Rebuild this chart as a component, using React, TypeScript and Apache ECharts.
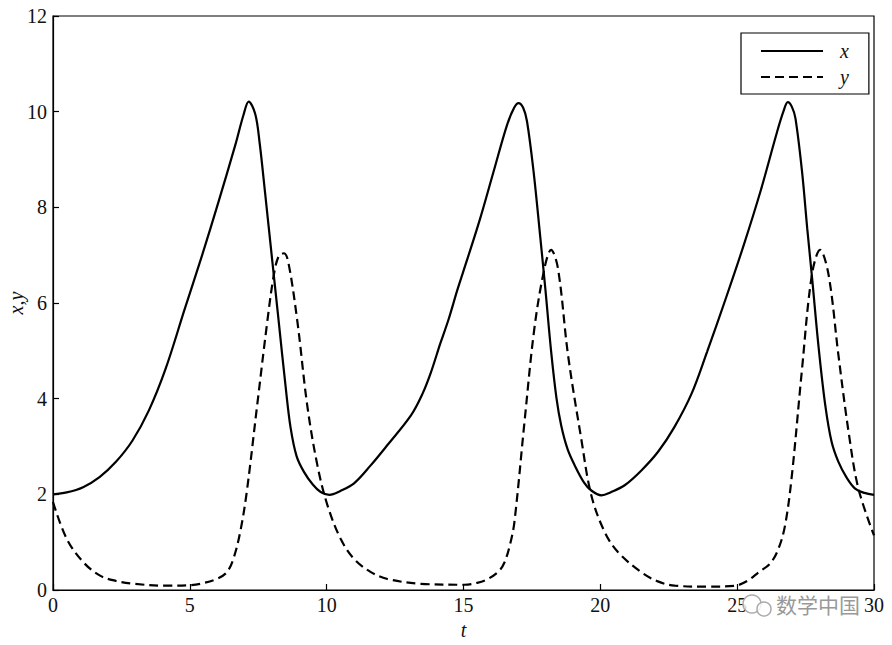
import React, { useEffect, useRef } from "react";
import * as echarts from "echarts";

const tX = [0, 0.5, 1.1, 1.7, 2.3, 2.9, 3.5, 4.1, 4.8, 5.45, 6.05, 6.66, 6.96, 7.15, 7.39, 7.55, 7.75, 8.0, 8.25, 8.5, 8.68, 8.9, 9.17, 9.5, 9.78, 10.1, 10.5, 11.0, 11.6, 12.22, 13.08, 13.5, 13.81, 14.15, 14.45, 14.79, 15.13, 15.61, 16.1, 16.59, 16.85, 17.01, 17.18, 17.32, 17.56, 17.81, 17.99, 18.2, 18.4, 18.57, 18.8, 19.06, 19.4, 19.67, 20.04, 20.4, 20.89, 21.5, 22.11, 22.7, 23.33, 23.9, 24.6, 25.24, 25.85, 26.46, 26.7, 26.85, 27.0, 27.13, 27.37, 27.56, 27.74, 27.98, 28.22, 28.45, 28.7, 29.0, 29.31, 29.65, 30.0];
const xVals = [2.0, 2.04, 2.15, 2.36, 2.68, 3.12, 3.75, 4.6, 5.85, 7.0, 8.12, 9.3, 9.93, 10.21, 9.95, 9.35, 8.3, 6.95, 5.6, 4.25, 3.4, 2.8, 2.47, 2.2, 2.05, 1.99, 2.07, 2.23, 2.6, 3.03, 3.65, 4.1, 4.55, 5.15, 5.65, 6.3, 6.9, 7.77, 8.75, 9.72, 10.08, 10.18, 10.08, 9.8, 8.75, 7.35, 6.3, 5.0, 4.0, 3.44, 2.95, 2.61, 2.25, 2.08, 1.98, 2.05, 2.19, 2.5, 2.89, 3.4, 4.1, 4.98, 6.12, 7.21, 8.33, 9.58, 10.02, 10.2, 10.1, 9.86, 8.75, 7.56, 6.51, 5.05, 3.86, 3.1, 2.68, 2.35, 2.12, 2.03, 1.99];

const tY = [0, 0.5, 1.11, 1.72, 2.3, 2.94, 4.16, 5.0, 5.38, 5.98, 6.35, 6.59, 6.84, 7.08, 7.46, 7.83, 8.07, 8.25, 8.44, 8.6, 8.93, 9.29, 9.66, 10.03, 10.51, 11.0, 11.6, 12.22, 13.44, 15.03, 15.5, 15.89, 16.3, 16.5, 16.7, 16.86, 17.23, 17.59, 17.96, 18.2, 18.45, 18.82, 19.3, 19.67, 20.16, 20.65, 21.5, 22.1, 22.72, 23.94, 24.92, 25.4, 25.78, 26.2, 26.5, 26.75, 27.0, 27.36, 27.73, 28.03, 28.34, 28.7, 29.07, 29.43, 30.0];
const yVals = [1.84, 1.07, 0.58, 0.3, 0.19, 0.13, 0.09, 0.1, 0.13, 0.23, 0.37, 0.65, 1.21, 2.05, 3.86, 5.61, 6.59, 6.98, 7.04, 6.85, 5.61, 3.86, 2.61, 1.77, 1.07, 0.65, 0.38, 0.23, 0.13, 0.11, 0.15, 0.23, 0.4, 0.58, 0.95, 1.42, 3.52, 5.47, 6.73, 7.11, 6.73, 4.91, 3.17, 1.98, 1.21, 0.79, 0.37, 0.18, 0.09, 0.07, 0.09, 0.2, 0.37, 0.55, 0.85, 1.35, 2.4, 4.56, 6.59, 7.11, 6.59, 4.91, 3.31, 2.12, 1.14];

const xTicks = [0, 5, 10, 15, 20, 25, 30];
const yTicks = [0, 2, 4, 6, 8, 10, 12];
const seriesNames = ["x", "y"];

const serif = "'Times New Roman', 'Liberation Serif', 'DejaVu Serif', serif";

export default function App() {
  const ref = useRef<HTMLDivElement>(null);
  useEffect(() => {
    if (!ref.current) return;
    const chart = echarts.init(ref.current, undefined, { renderer: "svg" });
    const axisCommon = {
      axisLine: { show: true, onZero: false, lineStyle: { color: "#000", width: 1.2 } },
      axisTick: { show: true, inside: true, length: 6, lineStyle: { color: "#000", width: 1.2 } },
      splitLine: { show: false },
      axisLabel: { color: "#111", fontFamily: serif, fontSize: 20 },
      nameTextStyle: { color: "#111", fontFamily: serif, fontSize: 20, fontStyle: "italic" as const },
    };
    chart.setOption({
      animation: false,
      backgroundColor: "#fff",
      textStyle: { fontFamily: serif },
      grid: {
        left: 53,
        right: 18,
        top: 16,
        bottom: 55,
        outerBoundsMode: "none",
        containLabel: false,
        show: true,
        borderColor: "#000",
        borderWidth: 1.2,
        backgroundColor: "transparent",
      },
      legend: {
        data: seriesNames,
        orient: "vertical",
        left: 741,
        top: 33,
        itemWidth: 62,
        itemHeight: 14,
        itemGap: 6,
        padding: [8, 20, 7, 19],
        borderColor: "#000",
        borderWidth: 1.2,
        itemStyle: { opacity: 0 },
        textStyle: { fontFamily: serif, fontSize: 20, fontStyle: "italic", color: "#111", padding: [0, 0, 0, 12] },
      },
      xAxis: {
        type: "value",
        min: 0,
        max: 30,
        interval: 5,
        name: "t",
        nameLocation: "middle",
        nameGap: 30,
        nameMoveOverlap: false,
        ...axisCommon,
        axisLabel: {
          ...axisCommon.axisLabel,
          margin: 5,
          formatter: (v: number) => (xTicks.includes(v) ? String(v) : ""),
        },
      },
      yAxis: {
        type: "value",
        min: 0,
        max: 12,
        interval: 2,
        name: "x,y",
        nameLocation: "middle",
        nameRotate: 90,
        nameGap: 27,
        nameMoveOverlap: false,
        ...axisCommon,
        axisLabel: {
          ...axisCommon.axisLabel,
          margin: 6,
          formatter: (v: number) => (yTicks.includes(v) ? String(v) : ""),
        },
      },
      series: [
        {
          name: seriesNames[0],
          type: "line",
          symbol: "none",
          smooth: 0.35,
          data: tX.map((t, i) => [t, xVals[i]]),
          lineStyle: { color: "#000", width: 2.2, type: "solid" },
          itemStyle: { color: "#000" },
        },
        {
          name: seriesNames[1],
          type: "line",
          symbol: "none",
          smooth: 0.35,
          data: tY.map((t, i) => [t, yVals[i]]),
          lineStyle: { color: "#000", width: 2.2, type: [9, 5] },
          itemStyle: { color: "#000" },
        },
      ],
      graphic: [
        {
          type: "circle",
          shape: { cx: 752, cy: 604, r: 9 },
          style: { fill: "rgba(255,255,255,0.85)", stroke: "#aaa", lineWidth: 1.5 },
          z: 100,
        },
        {
          type: "circle",
          shape: { cx: 764, cy: 609, r: 7 },
          style: { fill: "rgba(255,255,255,0.85)", stroke: "#aaa", lineWidth: 1.5 },
          z: 100,
        },
        {
          type: "text",
          left: 776,
          top: 593,
          style: { text: "数学中国", fill: "#999", font: "21px 'Noto Sans CJK SC'" },
          z: 100,
        },
      ],
    });
    return () => chart.dispose();
  }, []);
  return <div ref={ref} style={{ position: "absolute", left: 0, top: 0, width: 892, height: 645 }} />;
}
